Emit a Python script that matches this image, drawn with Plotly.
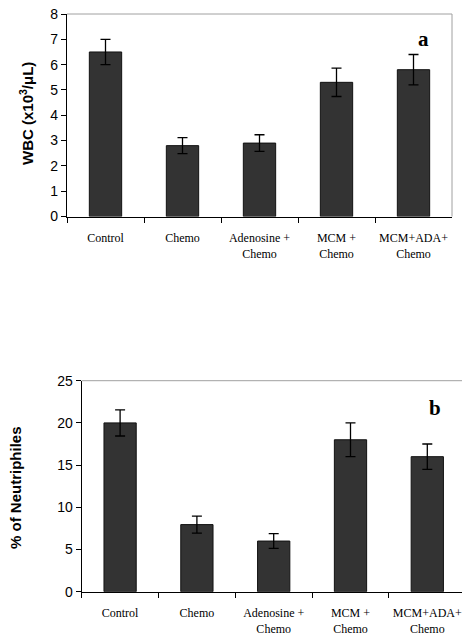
import plotly.graph_objects as go

categories = ["Control", "Chemo", "Adenosine +<br>Chemo", "MCM +<br>Chemo", "MCM+ADA+<br>Chemo"]
wbc_values = [6.5, 2.8, 2.9, 5.3, 5.8]
wbc_errors = [0.5, 0.32, 0.33, 0.56, 0.6]
neut_values = [20, 7.95, 6, 18, 16]
neut_errors = [1.55, 1.0, 0.87, 2.0, 1.5]
wbc_ticks = [0, 1, 2, 3, 4, 5, 6, 7, 8]
neut_ticks = [0, 5, 10, 15, 20, 25]

# page body has a default 8px margin; figure origin sits at (8, 8) in the window
OX, OY = 8, 8
W, H = 462, 628

def fx(p):
    return (p - OX) / W

def fy(p):
    return (H - (p - OY)) / H

def px_x(a, b):
    return [fx(a), fx(b)]

def px_y(top, bottom):
    return [fy(bottom), fy(top)]

bar_style = dict(marker=dict(color="#333333", line=dict(color="#111111", width=1)), showlegend=False)
err_style = dict(type="data", color="black", thickness=1.3, width=5, visible=True)

fig = go.Figure()
fig.add_trace(go.Bar(x=categories, y=wbc_values, error_y=dict(array=wbc_errors, **err_style),
                     xaxis="x", yaxis="y", **bar_style))
fig.add_trace(go.Bar(x=categories, y=neut_values, error_y=dict(array=neut_errors, **err_style),
                     xaxis="x2", yaxis="y2", **bar_style))

xcommon = dict(type="category", showline=True, linecolor="black", linewidth=1.2,
               ticks="outside", tickson="boundaries", ticklen=5, tickcolor="black", tickangle=0,
               tickfont=dict(family="Liberation Serif", size=12, color="black"), automargin=False,
               showgrid=False, zeroline=False, fixedrange=True, ticklabelstandoff=10)
ycommon = dict(showline=True, linecolor="black", linewidth=1.2, ticks="outside", ticklen=5,
               tickcolor="black", tickfont=dict(family="Liberation Sans", size=14, color="black"),
               showgrid=False, zeroline=False, automargin=False, ticklabeloverflow="allow")

fig.update_layout(
    width=W, height=H, margin=dict(l=0, r=0, t=0, b=0, autoexpand=False),
    paper_bgcolor="white", plot_bgcolor="white", bargap=0.58,
    xaxis=dict(domain=px_x(67, 452), anchor="y", **xcommon),
    yaxis=dict(domain=px_y(14, 216.5), anchor="x", range=[0, 8], tickvals=wbc_ticks, **ycommon),
    xaxis2=dict(domain=px_x(81.7, 465.7), anchor="y2", **xcommon),
    yaxis2=dict(domain=px_y(380.7, 591.7), anchor="x2", range=[0, 25], tickvals=neut_ticks, **ycommon),
)

frame = dict(color="#a0a0a0", width=1)
for xr, yr in [("x", "y"), ("x2", "y2")]:
    fig.add_shape(type="line", xref=f"{xr} domain", yref=f"{yr} domain", x0=0, x1=1, y0=1, y1=1, line=frame)
    fig.add_shape(type="line", xref=f"{xr} domain", yref=f"{yr} domain", x0=1, x1=1, y0=0, y1=1, line=frame)

ann = dict(xref="paper", yref="paper", showarrow=False, xanchor="center", yanchor="middle")
fig.add_annotation(text="<b>WBC (x10<sup>3</sup>/μL)</b>", textangle=-90, x=fx(27), y=fy(114),
                   font=dict(family="Liberation Sans", size=15, color="black"), **ann)
fig.add_annotation(text="<b>% of Neutriphiles</b>", textangle=-90, x=fx(15), y=fy(488),
                   font=dict(family="Liberation Sans", size=15, color="black"), **ann)
fig.add_annotation(text="<b>a</b>", x=fx(423), y=fy(39),
                   font=dict(family="Liberation Serif", size=21, color="black"), **ann)
fig.add_annotation(text="<b>b</b>", x=fx(435), y=fy(408),
                   font=dict(family="Liberation Serif", size=21, color="black"), **ann)

fig.write_html("out.html")
